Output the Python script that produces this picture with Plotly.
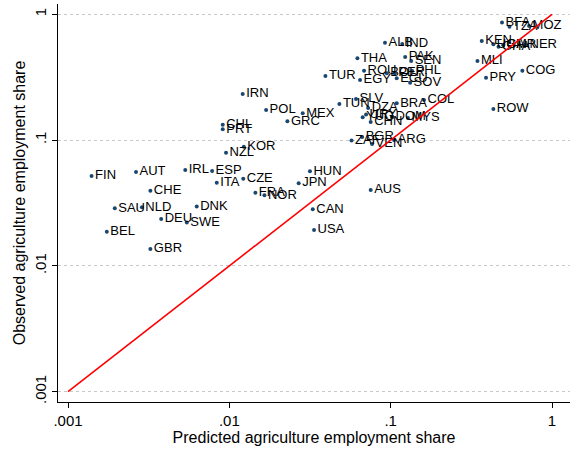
import plotly.graph_objects as go

countries = ["FIN","AUT","IRL","ESP","ITA","CHE","SAU","NLD","DNK","DEU","SWE","BEL","GBR",
             "IRN","POL","MEX","GRC","TUN","CHL","PRT","KOR","NZL","CZE","HUN","JPN","FRA","NOR",
             "CAN","USA","ZAF","AUS","BRA","COL","SLV","DZA","YUG","URY","CHN","DOM","MYS",
             "BGR","VEN","ARG","ALB","IND","THA","PAK","SEN","PHL","ROU","BOL","PER","TUR",
             "EGY","ECU","SOV","BFA","TZA","MOZ","KEN","UGA","GHA","CMR","NER","MLI","PRY",
             "COG","ROW"]
predicted = [0.00140,0.00264,0.00533,0.00782,0.00836,0.00324,0.00195,0.00287,0.00628,0.00378,0.00545,0.00174,0.00324,
             0.0121,0.0169,0.0285,0.0229,0.0481,0.0091,0.0091,0.0123,0.00954,0.0122,0.0316,0.0269,0.0145,0.0165,
             0.0329,0.0335,0.0572,0.0752,0.109,0.161,0.0610,0.0725,0.0671,0.0704,0.0752,0.102,0.128,
             0.0666,0.0767,0.105,0.0922,0.118,0.0622,0.123,0.134,0.136,0.0684,0.0947,0.106,0.0394,
             0.0646,0.109,0.132,0.490,0.545,0.721,0.367,0.433,0.466,0.498,0.690,0.345,0.390,
             0.655,0.433]
observed = [0.0518,0.0558,0.0578,0.0568,0.0459,0.0396,0.0287,0.0292,0.0296,0.0236,0.0221,0.0187,0.0136,
            0.2325,0.1735,0.1633,0.1411,0.1936,0.1326,0.1218,0.0886,0.0794,0.0493,0.0565,0.0454,0.0382,0.0364,
            0.0282,0.0193,0.0993,0.0401,0.196,0.208,0.212,0.180,0.152,0.160,0.139,0.153,0.150,
            0.106,0.0931,0.100,0.594,0.581,0.447,0.458,0.425,0.354,0.356,0.340,0.340,0.323,
            0.3006,0.310,0.286,0.861,0.797,0.807,0.614,0.577,0.553,0.570,0.570,0.425,0.313,
            0.356,0.1767]

line_x = [0.001, 1]
line_y = [0.001, 1]
tick_vals = [0.001, 0.01, 0.1, 1]
tick_text = [".001", ".01", ".1", "1"]

fig = go.Figure()
fig.add_trace(go.Scatter(
    x=predicted, y=observed, mode="markers+text", text=countries,
    textposition="middle right",
    textfont=dict(family="Liberation Sans, Arial, sans-serif", size=13, color="black"),
    marker=dict(size=4, color="#1a476f"),
    showlegend=False, cliponaxis=False))
fig.add_trace(go.Scatter(
    x=line_x, y=line_y, mode="lines",
    line=dict(color="red", width=1.6), showlegend=False))

fig.update_layout(
    width=578, height=451,
    margin=dict(l=58, r=8, t=4, b=49, autoexpand=False),
    paper_bgcolor="white", plot_bgcolor="white",
    font=dict(family="Liberation Sans, Arial, sans-serif", size=14, color="black"),
)
fig.update_xaxes(
    type="log", range=[-3.062, 0.1116], automargin=False,
    tickvals=tick_vals, ticktext=tick_text,
    ticks="outside", ticklen=5, tickcolor="black", tickwidth=1,
    showline=True, linecolor="black", linewidth=1, mirror=False,
    showgrid=False, zeroline=False,
    title=dict(text="Predicted agriculture employment share", font=dict(size=16), standoff=3),
    tickfont=dict(size=15),
)
fig.update_yaxes(
    type="log", range=[-3.082, 0.0819], automargin=False,
    tickvals=tick_vals, ticktext=tick_text, tickangle=-90,
    ticks="outside", ticklen=5, tickcolor="black", tickwidth=1,
    showline=True, linecolor="black", linewidth=1, mirror=False,
    showgrid=True, gridcolor="#c8c8c8", griddash="dot", gridwidth=1,
    zeroline=False,
    title=dict(text="Observed agriculture employment share", font=dict(size=16), standoff=2),
    tickfont=dict(size=15),
)

fig.write_html("out.html", config={"displayModeBar": False},
               post_script="document.body.style.margin='0px';")
